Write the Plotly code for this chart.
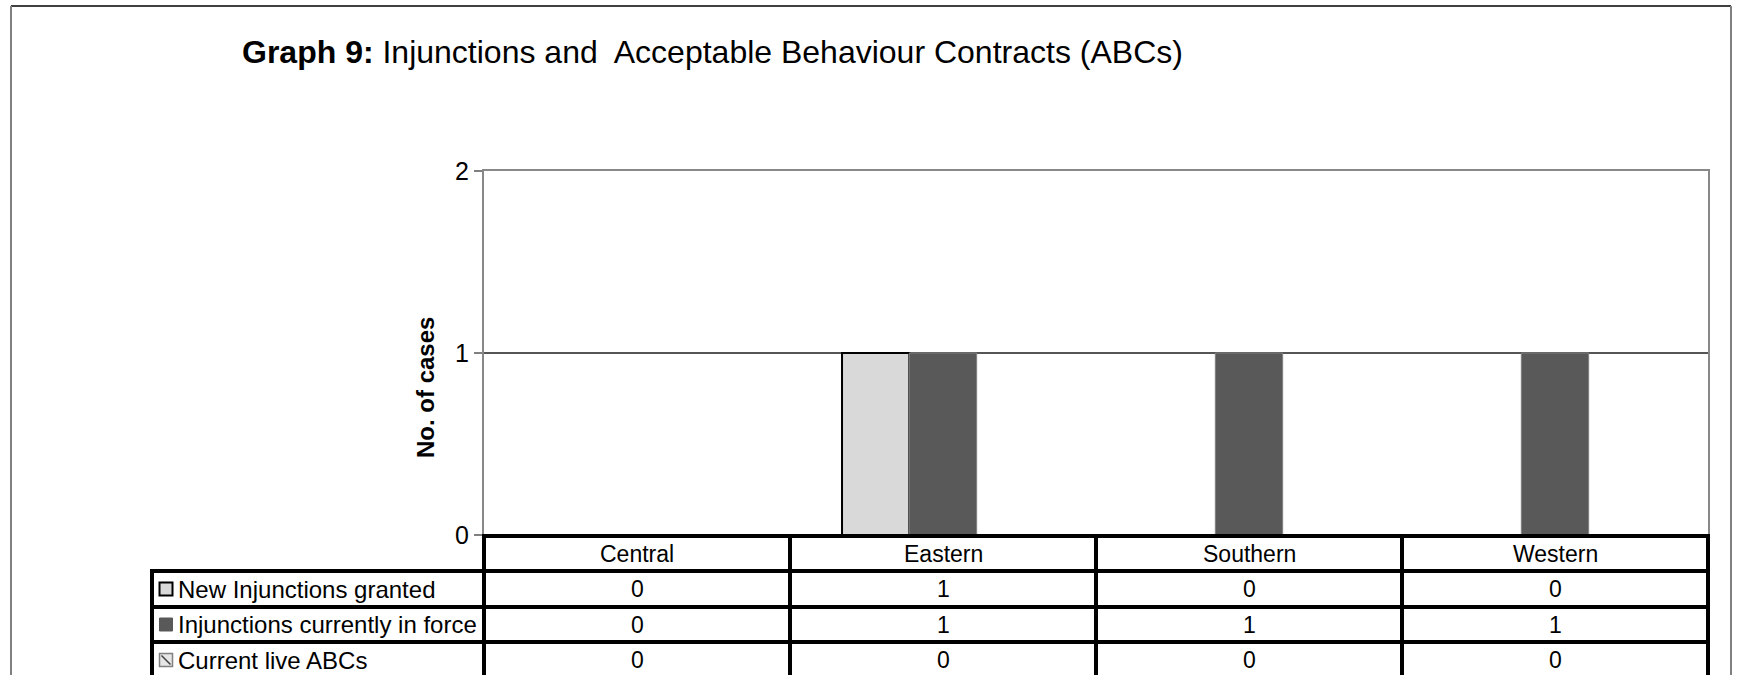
import plotly.graph_objects as go

# ---- data ----
categories = ["Central", "Eastern", "Southern", "Western"]
series_names = ["New Injunctions granted", "Injunctions currently in force", "Current live ABCs"]
new_injunctions = [0, 1, 0, 0]
injunctions_in_force = [0, 1, 1, 1]
live_abcs = [0, 0, 0, 0]
y_ticks = [0, 1, 2]

title_text = "<b>Graph 9:</b> Injunctions and\u00a0 Acceptable Behaviour Contracts (ABCs)"
y_title = "<b>No. of cases</b>"

FONT = "Arial, 'Liberation Sans', sans-serif"
W, H = 1740, 675
PL, PR, PT, PB = 484, 1708, 171, 535  # plot area pixel box


def px(x):
    return (x - PL) / (PR - PL)


def py(y):
    return (PB - y) / (PB - PT)


series_values = [new_injunctions, injunctions_in_force, live_abcs]

fig = go.Figure()
fig.add_trace(go.Bar(x=categories, y=new_injunctions, name=series_names[0],
                     marker=dict(color="#d9d9d9", line=dict(color="#000000", width=2))))
fig.add_trace(go.Bar(x=categories, y=injunctions_in_force, name=series_names[1],
                     marker=dict(color="#595959", line=dict(color="#7f7f7f", width=1))))
fig.add_trace(go.Bar(x=categories, y=live_abcs, name=series_names[2],
                     marker=dict(color="#ffffff", line=dict(color="#808080", width=1),
                                 pattern=dict(shape="\\", fgcolor="#808080", size=6))))

shapes = []
annotations = []

# outer frame
shapes.append(dict(type="line", xref="paper", yref="paper", x0=px(11), x1=px(1731), y0=py(6), y1=py(6),
                   line=dict(color="#404040", width=2)))
shapes.append(dict(type="line", xref="paper", yref="paper", x0=px(11), x1=px(11), y0=py(6), y1=py(700),
                   line=dict(color="#808080", width=2)))
shapes.append(dict(type="line", xref="paper", yref="paper", x0=px(1731), x1=px(1731), y0=py(6), y1=py(700),
                   line=dict(color="#808080", width=2)))

# data table grid
row_lines = [536, 571, 607, 642, 678]
col_lines = [484, 790, 1096, 1402, 1708]
BLK = dict(color="#000000", width=4)
shapes.append(dict(type="line", xref="paper", yref="paper", x0=px(484), x1=px(1710),
                   y0=py(row_lines[0]), y1=py(row_lines[0]), line=BLK))
for yl in row_lines[1:]:
    shapes.append(dict(type="line", xref="paper", yref="paper", x0=px(152), x1=px(1710),
                       y0=py(yl), y1=py(yl), line=BLK))
for xl in col_lines:
    shapes.append(dict(type="line", xref="paper", yref="paper", x0=px(xl), x1=px(xl),
                       y0=py(534), y1=py(700), line=BLK))
shapes.append(dict(type="line", xref="paper", yref="paper", x0=px(152), x1=px(152),
                   y0=py(569), y1=py(700), line=BLK))

header_y = 553.5
row_centers = [589, 624.5, 660]

for c in categories:
    annotations.append(dict(x=c, xref="x", y=py(header_y), yref="paper", text=c, showarrow=False,
                            xanchor="center", yanchor="middle", font=dict(family=FONT, size=23, color="#000")))

for i, (name, vals) in enumerate(zip(series_names, series_values)):
    yc = row_centers[i]
    annotations.append(dict(x=px(176), xref="paper", y=py(yc), yref="paper", text=name, showarrow=False,
                            xanchor="left", yanchor="middle", font=dict(family=FONT, size=24, color="#000")))
    for c, v in zip(categories, vals):
        annotations.append(dict(x=c, xref="x", y=py(yc), yref="paper", text=str(v), showarrow=False,
                                xanchor="center", yanchor="middle", font=dict(family=FONT, size=23, color="#000")))

# legend keys inside the table
mk = 6.5
kx = 166
yc = row_centers[0]
shapes.append(dict(type="rect", xref="paper", yref="paper", x0=px(kx - mk), x1=px(kx + mk),
                   y0=py(yc - mk), y1=py(yc + mk), fillcolor="#d9d9d9", line=dict(color="#000", width=2)))
yc = row_centers[1]
shapes.append(dict(type="rect", xref="paper", yref="paper", x0=px(kx - mk), x1=px(kx + mk),
                   y0=py(yc - mk), y1=py(yc + mk), fillcolor="#595959", line=dict(color="#595959", width=1)))
yc = row_centers[2]
shapes.append(dict(type="rect", xref="paper", yref="paper", x0=px(kx - mk), x1=px(kx + mk),
                   y0=py(yc - mk), y1=py(yc + mk), fillcolor="#e6e6e6", line=dict(color="#808080", width=1.5)))
shapes.append(dict(type="line", xref="paper", yref="paper", x0=px(kx - mk + 2), x1=px(kx + mk - 2),
                   y0=py(yc - mk + 2), y1=py(yc + mk - 2), line=dict(color="#404040", width=1.5)))

# title and y-axis title
annotations.append(dict(x=px(240), xref="paper", y=py(52), yref="paper", text=title_text, showarrow=False,
                        xanchor="left", yanchor="middle", font=dict(family=FONT, size=32, color="#000")))
annotations.append(dict(x=px(425), xref="paper", y=py(388), yref="paper", text=y_title, showarrow=False,
                        textangle=-90, xanchor="center", yanchor="middle",
                        font=dict(family=FONT, size=24, color="#000")))

fig.update_layout(
    width=W, height=H,
    margin=dict(l=PL, r=W - PR, t=PT, b=H - PB, pad=0),
    paper_bgcolor="#ffffff", plot_bgcolor="#ffffff",
    barmode="group", bargap=0.34, bargroupgap=0,
    showlegend=False,
    font=dict(family=FONT, color="#000"),
    xaxis=dict(type="category", categoryorder="array", categoryarray=categories,
               showticklabels=False, ticks="", showgrid=False, zeroline=False,
               showline=True, linecolor="#888888", linewidth=2, mirror=True),
    yaxis=dict(range=[0, 2], tickvals=y_ticks, ticktext=[str(t) for t in y_ticks],
               ticks="outside", ticklen=8, tickcolor="#808080", tickwidth=1.5,
               tickfont=dict(family=FONT, size=25, color="#000"),
               showgrid=True, gridcolor="#555555", gridwidth=1.5, zeroline=False,
               showline=True, linecolor="#888888", linewidth=2, mirror=True),
    shapes=shapes,
    annotations=annotations,
)

fig.write_html("out.html", config={"displayModeBar": False},
               post_script="document.body.style.margin='0';document.body.style.overflow='hidden';")
